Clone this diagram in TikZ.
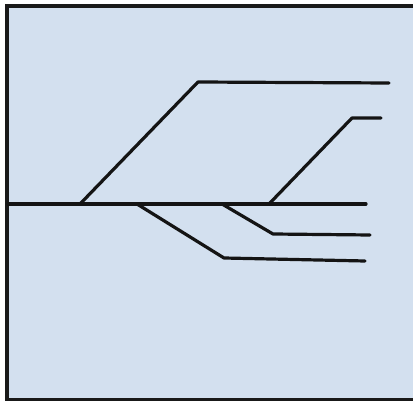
\documentclass[tikz,border=0pt]{standalone}
\definecolor{panel}{RGB}{211,224,239}
\begin{document}
\begin{tikzpicture}[x=1pt,y=-1pt,
  frame/.style={draw=black!90,line width=3.2pt,fill=panel},
  trackline/.style={draw=black!92,line width=3.2pt,line cap=round,line join=round}]
\useasboundingbox (0,0) rectangle (413,403);
\fill[white] (0,0) rectangle (413,403);
\path[frame] (7,6) rectangle (420,399.5);
% named points
\coordinate (m0) at (8,204);
\coordinate (mA) at (80,204);
\coordinate (mB) at (137,204);
\coordinate (mC) at (222,204);
\coordinate (mD) at (269,204);
\coordinate (mE) at (366,204);
\coordinate (t1) at (198,82);
\coordinate (t2) at (389,83);
\coordinate (u1) at (352,118);
\coordinate (u2) at (381,118);
\coordinate (v1) at (273,234);
\coordinate (v2) at (370,235);
\coordinate (w1) at (224,258);
\coordinate (w2) at (365,261);
\draw[trackline] (m0) -- (mE);
\draw[trackline] (mA) -- (t1) -- (t2);
\draw[trackline] (mD) -- (u1) -- (u2);
\draw[trackline] (mC) -- (v1) -- (v2);
\draw[trackline] (mB) -- (w1) -- (w2);
\end{tikzpicture}
\end{document}
